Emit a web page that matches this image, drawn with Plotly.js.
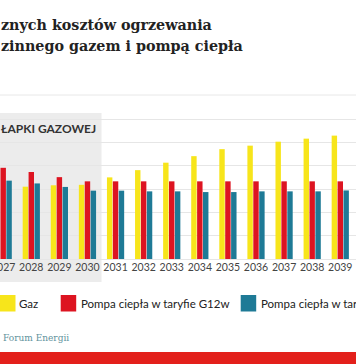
<!DOCTYPE html>
<html>
<head>
<meta charset="utf-8">
<script src="https://cdn.plot.ly/plotly-3.0.1.min.js"></script>
<style>
html,body{margin:0;padding:0;background:#fff;overflow:hidden;}
#chart{width:356px;height:364px;}
</style>
</head>
<body>
<div id="chart"></div>
<script>
// ---- data (zł / year) ----
const years = ["2027","2028","2029","2030","2031","2032","2033","2034","2035","2036","2037","2038","2039"];
const gaz      = [null, 3100, 3160, 3180, 3500, 3810, 4130, 4410, 4710, 4860, 5030, 5160, 5290];
const pompaG12w = [3910, 3730, 3510, 3330, 3330, 3330, 3330, 3330, 3330, 3330, 3330, 3330, 3330];
const pompaTar  = [3360, 3240, 3090, 2930, 2930, 2900, 2900, 2870, 2870, 2900, 2900, 2900, 2940];
const seriesNames = ["Gaz", "Pompa ciepła w taryfie G12w", "Pompa ciepła w taryfie"];
const seriesColors = ["#f7e51b", "#dd1421", "#1e7a96"];
const titleLines = ["znych kosztów ogrzewania", "zinnego gazem i pompą ciepła"];
const bandLabel = "ŁAPKI GAZOWEJ";
const sourceLabel = "Forum Energii";

// ---- geometry helpers (pixels -> paper) ----
const W = 356, H = 364, plotTop = 113, plotBottom = 259;
const px = x => x / W;
const py = y => (plotBottom - y) / (plotBottom - plotTop);
const r0 = -0.114, r1 = 12.56;
const catToPaper = c => (c - r0) / (r1 - r0);

const values = [gaz, pompaG12w, pompaTar];
const traces = values.map((v, i) => ({
  type: 'bar', x: years, y: v, name: seriesNames[i],
  marker: {color: seriesColors[i]}, showlegend: false, hoverinfo: 'skip'
}));

const shapes = [
  {type:'rect', xref:'paper', yref:'paper', x0:-0.05, x1:catToPaper(3.5), y0:py(282), y1:py(113),
   fillcolor:'#ececec', line:{width:0}, layer:'below'},
  {type:'line', xref:'paper', yref:'paper', x0:-0.05, x1:1.05, y0:py(95), y1:py(95),
   line:{color:'#e8e8e8', width:1}},
  {type:'rect', xref:'paper', yref:'paper', x0:-0.05, x1:1.05, y0:py(366), y1:py(352),
   fillcolor:'#e3201b', line:{width:0}}
];
const swatchX = [0, 60.7, 240.7];
const textX = [17, 79, 259];
swatchX.forEach((sx, i) => shapes.push({
  type:'rect', xref:'paper', yref:'paper', x0:px(sx), x1:px(sx+15.5), y0:py(311.5), y1:py(295),
  fillcolor:seriesColors[i], line:{width:0}
}));

const annotations = [
  {xref:'paper', yref:'paper', x:px(-1), y:py(25), xanchor:'left', yanchor:'middle', showarrow:false,
   text:titleLines[0], font:{family:'DejaVu Serif', size:14.3, color:'#222', weight:'bold'}},
  {xref:'paper', yref:'paper', x:px(-1), y:py(46), xanchor:'left', yanchor:'middle', showarrow:false,
   text:titleLines[1], font:{family:'DejaVu Serif', size:14.3, color:'#222', weight:'bold'}},
  {xref:'paper', yref:'paper', x:px(-1), y:py(128), xanchor:'left', yanchor:'middle', showarrow:false,
   text:bandLabel, font:{family:'Lato', size:12, color:'#333', weight:'bold'}},
  {xref:'paper', yref:'paper', x:px(1), y:py(338), xanchor:'left', yanchor:'middle', showarrow:false,
   text:sourceLabel, font:{family:'DejaVu Serif', size:9, color:'#5f939d'}}
];
textX.forEach((tx, i) => annotations.push({
  xref:'paper', yref:'paper', x:px(tx), y:py(303), xanchor:'left', yanchor:'middle', showarrow:false,
  text:seriesNames[i], font:{family:'Lato', size:11.5, color:'#222'}
}));

const layout = {
  width: W, height: H,
  margin: {l:0, r:0, t:plotTop, b:H-plotBottom, pad:0},
  paper_bgcolor:'#fff', plot_bgcolor:'rgba(0,0,0,0)',
  barmode:'group', bargap:0.37, bargroupgap:0.08,
  showlegend:false,
  xaxis: {type:'category', range:[r0, r1], showgrid:false, zeroline:false, showline:false,
          ticks:'', tickfont:{family:'Lato', size:10.5, color:'#444'}, fixedrange:true},
  yaxis: {range:[0, 6260], dtick:1000, showgrid:true, gridcolor:'#e6e6e6', gridwidth:1,
          zeroline:true, zerolinecolor:'#e6e6e6', showticklabels:false, ticks:'', fixedrange:true},
  shapes: shapes, annotations: annotations
};
Plotly.newPlot('chart', traces, layout, {staticPlot:true, displayModeBar:false});
</script>
</body>
</html>
